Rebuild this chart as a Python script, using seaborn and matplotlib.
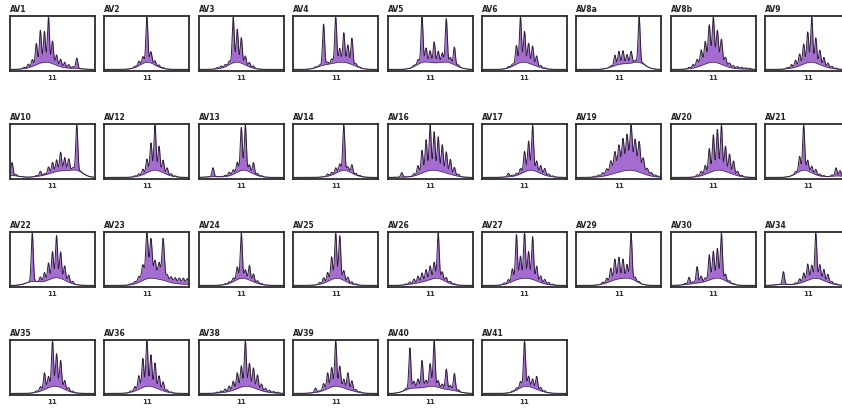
import numpy as np
import matplotlib
matplotlib.use("Agg")
import matplotlib.pyplot as plt
import seaborn as sns

# CDR3 length positions (1..21) and relative peak heights per V-family
lengths = list(range(1, 22))
tick_value = 11

av1 = [0,0,0,0.03,0.08,0.15,0.47,0.72,0.68,1.0,0.5,0.23,0.17,0.12,0.08,0.04,0.23,0,0,0,0]
av2 = [0,0,0,0,0,0,0,0.03,0.1,0.15,1.0,0.25,0.1,0.05,0.02,0,0,0,0,0,0]
av3 = [0,0,0,0,0.03,0.05,0.05,0.08,1.0,0.72,0.56,0.2,0.1,0.05,0,0,0,0,0,0,0]
av4 = [0,0,0,0,0,0.02,0.03,0.9,0.05,0.1,1.0,0.3,0.65,0.4,0.58,0.06,0.02,0,0,0,0]
av5 = [0,0,0,0,0,0,0.03,0.1,0.97,0.3,0.25,0.45,0.25,0.2,0.93,0.12,0.38,0.04,0,0,0]
av6 = [0,0,0,0,0,0,0.03,0.05,0.41,1.0,0.68,0.44,0.41,0.23,0.05,0.02,0,0,0,0,0]
av8a = [0,0,0,0,0,0,0,0,0.03,0.23,0.29,0.29,0.2,0.26,0.04,1.0,0.02,0,0,0,0]
av8b = [0,0,0,0,0.03,0.08,0.17,0.35,0.5,0.84,1.0,0.72,0.56,0.2,0.1,0.06,0.05,0.04,0.03,0.02,0]
av9 = [0,0,0,0,0,0.03,0.08,0.15,0.26,0.44,0.68,1.0,0.56,0.32,0.2,0.1,0.05,0.02,0,0,0]
av10 = [0.28,0.03,0,0,0,0,0.02,0.1,0.03,0.15,0.22,0.25,0.4,0.28,0.25,0.05,0.97,0.02,0,0,0]
av12 = [0,0,0,0,0,0,0,0.02,0.05,0.12,0.3,0.62,1.0,0.55,0.28,0.15,0.05,0.02,0,0,0]
av13 = [0,0,0,0.2,0,0,0.03,0.08,0.1,0.22,0.95,1.0,0.16,0.25,0.05,0.02,0,0,0,0,0]
av14 = [0,0,0,0,0,0,0,0,0.05,0.06,0.12,0.16,1.0,0.1,0.19,0.04,0.02,0,0,0,0]
av16 = [0,0,0,0.1,0,0,0.05,0.2,0.5,0.7,1.0,0.85,0.75,0.6,0.47,0.33,0.18,0.05,0,0,0]
av17 = [0,0,0,0,0,0,0.08,0.03,0.05,0.12,0.45,0.65,1.0,0.24,0.18,0.15,0.05,0.02,0,0,0]
av19 = [0,0,0,0,0.02,0.04,0.08,0.15,0.3,0.48,0.6,0.72,0.8,1.0,0.7,0.68,0.35,0.15,0.08,0.04,0.02]
av20 = [0,0,0,0,0,0,0.04,0.1,0.2,0.53,0.8,0.9,1.0,0.56,0.42,0.3,0.1,0.03,0,0,0]
av21 = [0,0,0,0,0,0,0,0.05,0.33,1.0,0.24,0.15,0.12,0.04,0.02,0,0.03,0.18,0.12,0.03,0]
av22 = [0,0,0,0,0,1.0,0,0.1,0.18,0.35,0.55,0.87,0.55,0.3,0.15,0.05,0,0,0,0,0]
av23 = [0,0,0,0,0,0,0.02,0.05,0.13,0.34,1.0,0.87,0.4,0.37,0.92,0.15,0.13,0.13,0.13,0.13,0.13]
av24 = [0,0,0,0,0,0,0.02,0.04,0.08,0.28,1.0,0.2,0.33,0.18,0.06,0.02,0,0,0,0,0]
av25 = [0,0,0,0,0,0,0.04,0.12,0.2,0.5,1.0,0.95,0.22,0.12,0.05,0.02,0,0,0,0,0]
av26 = [0,0,0,0,0.02,0.05,0.1,0.15,0.2,0.25,0.3,0.36,1.0,0.18,0.1,0.05,0.02,0,0,0,0]
av27 = [0,0,0,0,0,0.03,0.08,0.28,1.0,0.5,1.0,0.6,0.95,0.33,0.15,0.1,0.05,0.02,0,0,0]
av29 = [0,0,0,0,0,0,0.04,0.1,0.28,0.45,0.47,0.42,0.3,1.0,0.08,0.03,0,0,0,0,0]
av30 = [0,0,0,0.03,0.15,0.04,0.36,0.14,0.08,0.55,0.6,0.65,1.0,0.15,0.05,0.02,0,0,0,0,0]
av34 = [0,0,0,0,0.28,0,0,0.03,0.1,0.2,0.36,0.3,1.0,0.32,0.25,0.18,0.05,0.02,0,0,0]
av35 = [0,0,0,0,0,0,0.03,0.1,0.37,0.25,1.0,0.72,0.6,0.2,0.08,0.03,0,0,0,0,0]
av36 = [0,0,0,0,0,0,0.03,0.1,0.3,0.64,1.0,0.7,0.55,0.3,0.2,0.05,0.02,0,0,0,0]
av38 = [0,0,0,0,0.02,0.04,0.07,0.12,0.2,0.35,0.47,1.0,0.52,0.44,0.32,0.15,0.08,0.05,0.03,0.02,0]
av39 = [0,0,0,0,0,0.1,0.02,0.15,0.35,0.43,1.0,0.46,0.2,0.37,0.22,0.05,0.02,0,0,0,0]
av40 = [0,0,0,0,0.03,0.9,0.15,0.2,0.6,0.15,0.5,1.0,0.15,0.1,0.45,0.1,0.38,0.04,0,0,0]
av41 = [0,0,0,0,0,0,0,0.02,0.05,0.14,1.0,0.23,0.2,0.29,0.08,0.03,0,0,0,0,0]

panel_names = ["AV1", "AV2", "AV3", "AV4", "AV5", "AV6", "AV8a", "AV8b", "AV9",
               "AV10", "AV12", "AV13", "AV14", "AV16", "AV17", "AV19", "AV20", "AV21",
               "AV22", "AV23", "AV24", "AV25", "AV26", "AV27", "AV29", "AV30", "AV34",
               "AV35", "AV36", "AV38", "AV39", "AV40", "AV41"]
panel_values = [av1, av2, av3, av4, av5, av6, av8a, av8b, av9,
                av10, av12, av13, av14, av16, av17, av19, av20, av21,
                av22, av23, av24, av25, av26, av27, av29, av30, av34,
                av35, av36, av38, av39, av40, av41]

# styling (peak width per panel in length units)
peak_width = {"AV19": 0.3, "AV8b": 0.28, "AV23": 0.3}
FILL = "#9a5ccc"
LINE = "#2e1f3a"
SPINE = "#2b2b2b"

sns.set_style("white")
plt.rcParams['font.family'] = ['DejaVu Sans']

W, H = 842, 408
fig = plt.figure(figsize=(W / 100, H / 100), dpi=100)

col_left = [10 + 94.4 * c for c in range(9)]
row_top = [16, 124, 232, 340]
box_w, box_h = 85, 55

xs = np.linspace(0.5, 21.5, 1200)
L = np.array(lengths, dtype=float)

for k, (name, vals) in enumerate(zip(panel_names, panel_values)):
    r, c = divmod(k, 9)
    left = col_left[c]
    top = row_top[r]
    ax = fig.add_axes([left / W, 1 - (top + box_h) / H, box_w / W, box_h / H])
    h = np.array(vals, dtype=float)
    s = peak_width.get(name, 0.25)
    peaks = (h[None, :] * np.exp(-(xs[:, None] - L[None, :]) ** 2 / (2 * s ** 2))).sum(1)
    env = (h[None, :] * np.exp(-(xs[:, None] - L[None, :]) ** 2 / (2 * 1.6 ** 2))).sum(1)
    env = 0.16 * env / max(env.max(), 1e-9)
    topc = env + peaks
    scale = 0.98 / topc.max()
    topc = topc * scale
    env = env * scale
    ax.fill_between(xs, env, topc, color=FILL, lw=0, alpha=0.9)
    sns.lineplot(x=xs, y=topc, ax=ax, color=LINE, lw=0.7, sort=False)
    sns.lineplot(x=xs, y=env, ax=ax, color=LINE, lw=0.4, sort=False)
    ax.set_xlim(0.5, 21.5)
    ax.set_ylim(-0.03, 1.0)
    ax.set_yticks([])
    ax.set_xticks([tick_value])
    ax.set_xticklabels([str(tick_value)], fontsize=5, fontweight='bold', color="#333333")
    ax.tick_params(axis='x', direction='out', length=2, width=0.7, pad=0.8, colors="#333333")
    ax.set_xlabel("")
    ax.set_ylabel("")
    for sp in ax.spines.values():
        sp.set_visible(True)
        sp.set_color(SPINE)
        sp.set_linewidth(1.3)
    ax.text(0.0, 1.04, name, transform=ax.transAxes, fontsize=5.5, fontweight='bold',
            ha='left', va='bottom', color="#222222")

fig.savefig("out.png", dpi=100)
